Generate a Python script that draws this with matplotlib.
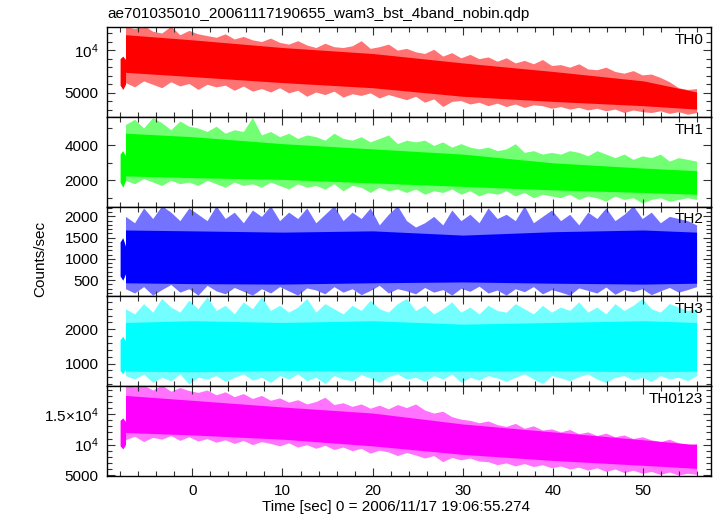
import matplotlib.pyplot as plt
import numpy as np
from matplotlib.ticker import MultipleLocator, FixedLocator, FixedFormatter

# WAM light curves (counts/sec)
# short first chunk at t = -8 .. -7.4 s, then the main run
pre_t = [-8.0, -7.7, -7.4]
env_t = np.linspace(-7.4, 55.9, 64)
core_t = [-7.4, 0, 10, 20, 30, 40, 50, 55.9]

th0_pre_hi = [9000, 9300, 8900]
th0_pre_lo = [5900, 5400, 6000]
th0_hi = [12800, 12500, 12900, 12200, 12000, 12800, 11800, 12300,
          11900, 11700, 11500, 11900, 11300, 11600, 11200, 11000,
          11400, 10900, 10700, 11100, 10600, 10300, 10800, 10400,
          10300, 10500, 11100, 10200, 10400, 10700, 10000, 10200,
          9800, 9600, 10100, 9300, 9700, 9100, 9500, 9000,
          9200, 8700, 9100, 8500, 8800, 8400, 8900, 8200,
          8300, 8000, 8400, 7800, 7700, 8000, 7500, 7300,
          7600, 7100, 7200, 6800, 6300, 5600, 5400, 5500]
th0_lo = [6200, 5700, 6400, 6000, 5600, 6300, 5800, 6100,
          5400, 6000, 5700, 5900, 5300, 5800, 5200, 5500,
          5100, 5600, 5000, 5300, 4600, 5100, 4800, 5200,
          4500, 4900, 4700, 5000, 4400, 4800, 4500, 4200,
          4600, 3900, 4300, 3400, 4000, 4100, 3700, 3900,
          3500, 3800, 3400, 3700, 3300, 3600, 3500, 3200,
          3400, 3100, 3300, 3000, 3200, 2900, 3100, 2700,
          3000, 2800, 2700, 2900, 2600, 2800, 2500, 2700]
th0_core_hi = [11800, 11200, 10300, 9600, 8500, 7500, 6400, 5100]
th0_core_lo = [7400, 6900, 6200, 5600, 4600, 4000, 3500, 3100]

th1_pre_hi = [3500, 3700, 3400]
th1_pre_lo = [1900, 1600, 2000]
th1_hi = [5200, 5500, 5000, 5600, 5300, 4900, 5400, 5100,
          5000, 4800, 5100, 4700, 4900, 4800, 5600, 4600,
          4800, 4500, 4700, 4400, 4600, 4500, 4300, 4700,
          4400, 4300, 4500, 4200, 4400, 4600, 4100, 4300,
          4200, 4300, 4000, 4200, 3900, 4100, 3900, 3800,
          3900, 3700, 3800, 4100, 3600, 3700, 3500, 3600,
          3500, 3700, 3600, 3400, 3700, 3500, 3300, 3500,
          3200, 3400, 3300, 3500, 3100, 3300, 3200, 3100]
th1_lo = [2000, 1800, 2100, 1900, 1700, 2000, 1800, 1900,
          1700, 2000, 1800, 1600, 1900, 1700, 1800, 1600,
          1900, 1700, 1500, 1800, 1600, 1700, 1500, 1800,
          1400, 1700, 1600, 1300, 1600, 1400, 1500, 1300,
          1500, 1200, 1400, 1300, 1500, 1200, 1400, 1100,
          1300, 1200, 1400, 1100, 1300, 1000, 1200, 1100,
          1000, 1200, 900, 1100, 1000, 800, 1100, 900,
          1000, 700, 900, 1000, 800, 900, 1000, 900]
th1_core_hi = [4700, 4500, 4100, 3800, 3500, 3000, 2700, 2550]
th1_core_lo = [2250, 2150, 2050, 1850, 1650, 1450, 1300, 1200]

th2_pre_hi = [1400, 1500, 1300]
th2_pre_lo = [600, 500, 650]
th2_hi = [2000, 1850, 2200, 1950, 2250, 2100, 1900, 2200,
          2050, 1900, 2250, 1950, 2100, 1850, 2150, 2000,
          2250, 1900, 2100, 1950, 2200, 1850, 2050, 2250,
          1900, 2100, 1950, 2200, 1800, 2050, 2250, 1900,
          1750, 1850, 2000, 1800, 2150, 1900, 2050, 1850,
          2200, 1950, 2050, 1900, 2250, 1850, 2000, 2150,
          1900, 2050, 1800, 2100, 1950, 2200, 1900, 2050,
          2250, 1950, 2100, 1850, 2000, 1950, 1900, 1800]
th2_lo = [300, 200, 350, 150, 280, 400, 220, 300,
          150, 380, 250, 180, 330, 240, 150, 300,
          200, 350, 250, 150, 320, 270, 180, 350,
          220, 300, 160, 260, 380, 200, 300, 250,
          180, 330, 220, 280, 150, 310, 240, 360,
          200, 270, 150, 300, 230, 350, 180, 280,
          220, 150, 320, 260, 200, 340, 170, 280,
          230, 300, 160, 250, 330, 220, 280, 350]
th2_core_hi = [1680, 1660, 1630, 1660, 1560, 1640, 1680, 1630]
th2_core_lo = [440, 420, 410, 440, 460, 430, 410, 430]

th3_pre_hi = [1700, 1800, 1650]
th3_pre_lo = [800, 700, 850]
th3_hi = [2600, 2450, 2750, 2500, 2900, 2650, 2500, 2850,
          2600, 2950, 2550, 2700, 2450, 2800, 2600, 2950,
          2550, 2700, 2500, 2650, 2900, 2500, 2750, 2600,
          2450, 2700, 2550, 2850, 2600, 2500, 2750, 2900,
          2550, 2700, 2450, 2600, 2800, 2500, 2650, 2450,
          2700, 2550, 2500, 2750, 2600, 2450, 2700, 2500,
          2650, 2550, 2800, 2500, 2650, 2450, 2750, 2550,
          2700, 2900, 2600, 2500, 2750, 2650, 2550, 2600]
th3_lo = [650, 550, 700, 450, 600, 500, 700, 400,
          600, 550, 650, 480, 600, 700, 520, 600,
          450, 650, 550, 700, 500, 600, 420, 650,
          550, 500, 680, 580, 450, 620, 700, 550,
          600, 480, 650, 550, 700, 450, 600, 520,
          650, 580, 480, 600, 700, 550, 420, 650,
          580, 500, 620, 700, 550, 450, 600, 650,
          520, 600, 480, 650, 550, 600, 500, 650]
th3_core_hi = [2200, 2250, 2200, 2250, 2150, 2200, 2250, 2200]
th3_core_lo = [780, 760, 800, 770, 780, 790, 760, 780]

tha_pre_hi = [14000, 14400, 13800]
tha_pre_lo = [9800, 9300, 10000]
tha_hi = [19800, 19500, 19800, 19000, 19800, 18800, 19400, 18900,
          18600, 19000, 18200, 18700, 17900, 18400, 17600, 18100,
          17300, 17700, 17000, 17400, 16700, 17100, 17800, 16600,
          16900, 16300, 16700, 16000, 16500, 15900, 16600, 16100,
          16700, 15700, 15200, 15500, 14600, 14200, 14000, 13600,
          13900, 13300, 13000, 13500, 12700, 13100, 12400, 12600,
          12100, 12500, 11800, 12100, 11500, 11900, 11300, 11600,
          11000, 11300, 10800, 10500, 10900, 10300, 10000, 10200]
tha_lo = [10800, 11400, 10500, 11200, 10900, 11500, 10700, 11300,
          10600, 11000, 10400, 10800, 10200, 10700, 10000, 10500,
          10200, 9800, 10300, 9600, 10000, 9400, 9900, 9200,
          9600, 9000, 9400, 8600, 9100, 8800, 8200, 8700,
          8300, 7800, 8200, 7200, 7900, 7500, 7800, 7300,
          7200, 6700, 7000, 6500, 6900, 6400, 6700, 6200,
          6500, 6000, 6300, 5800, 6200, 5600, 6000, 5400,
          5800, 5300, 5600, 5100, 5500, 5000, 5300, 5100]
tha_core_hi = [18100, 17300, 16200, 15200, 13400, 12100, 10800, 10000]
tha_core_lo = [12000, 11600, 10900, 9800, 8400, 7400, 6600, 6100]

names = ['TH0', 'TH1', 'TH2', 'TH3', 'TH0123']

plt.rcParams['font.family'] = ['Liberation Sans', 'DejaVu Sans']
plt.rcParams['mathtext.fontset'] = 'custom'
plt.rcParams['mathtext.rm'] = 'Liberation Sans'
plt.rcParams['font.size'] = 11

fig, axes = plt.subplots(5, 1, figsize=(7.17, 5.16), dpi=100, sharex=True)
fig.subplots_adjust(left=107 / 717, right=711 / 717, top=1 - 27 / 516,
                    bottom=1 - 476 / 516, hspace=0)

series = [
    (th0_pre_hi, th0_pre_lo, th0_hi, th0_lo, th0_core_hi, th0_core_lo),
    (th1_pre_hi, th1_pre_lo, th1_hi, th1_lo, th1_core_hi, th1_core_lo),
    (th2_pre_hi, th2_pre_lo, th2_hi, th2_lo, th2_core_hi, th2_core_lo),
    (th3_pre_hi, th3_pre_lo, th3_hi, th3_lo, th3_core_hi, th3_core_lo),
    (tha_pre_hi, tha_pre_lo, tha_hi, tha_lo, tha_core_hi, tha_core_lo),
]
colors = ['#ff0000', '#00ff00', '#0000ff', '#00ffff', '#ff00ff']
ylims = [(2200, 12700), (490, 5640), (120, 2230), (340, 2960), (4840, 19620)]
yticks = [[5000, 10000], [2000, 4000], [500, 1000, 1500, 2000],
          [1000, 2000], [5000, 10000, 15000]]
ylabels = [['5000', r'$\mathregular{10^4}$'], ['2000', '4000'],
           ['500', '1000', '1500', '2000'], ['1000', '2000'],
           ['5000', r'$\mathregular{10^4}$', r'$\mathregular{1.5{\times}10^4}$']]
yminor = [1000, 1000, 100, 200, 1000]

for i, ax in enumerate(axes):
    pre_hi, pre_lo, hi, lo, c_hi, c_lo = series[i]
    c = colors[i]
    ax.fill_between(pre_t, pre_lo, pre_hi, color=c, lw=0)
    # spiky outer envelope, lighter like the thin tips in the original
    ax.fill_between(env_t, lo, hi, color=c, alpha=0.55, lw=0)
    ax.fill_between(core_t, c_lo, c_hi, color=c, lw=0)
    ax.set_xlim(-9.45, 57.5)
    ax.set_ylim(*ylims[i])
    ax.yaxis.set_major_locator(FixedLocator(yticks[i]))
    ax.yaxis.set_major_formatter(FixedFormatter(ylabels[i]))
    ax.yaxis.set_minor_locator(MultipleLocator(yminor[i]))
    ax.xaxis.set_major_locator(MultipleLocator(10))
    ax.xaxis.set_minor_locator(MultipleLocator(2))
    ax.tick_params(which='both', direction='in', top=True, right=True,
                   width=0.8, color='#333333', labelsize=11, pad=6)
    ax.tick_params(which='major', length=6)
    ax.tick_params(which='minor', length=3.5)
    for s in ax.spines.values():
        s.set_linewidth(1.0)
    ax.text(0.987, 0.935, names[i], transform=ax.transAxes, ha='right',
            va='top', fontsize=11)

fig.text(107 / 717, 1 - 14 / 516, 'ae701035010_20061117190655_wam3_bst_4band_nobin.qdp',
         ha='left', va='center', fontsize=11)
fig.text(40 / 717, 1 - 259 / 516, 'Counts/sec', rotation=90, ha='center',
         va='center', fontsize=11)
fig.text(396 / 717, 1 - 507 / 516, 'Time [sec] 0 = 2006/11/17 19:06:55.274',
         ha='center', va='center', fontsize=11)

fig.savefig('out.png', dpi=100)
